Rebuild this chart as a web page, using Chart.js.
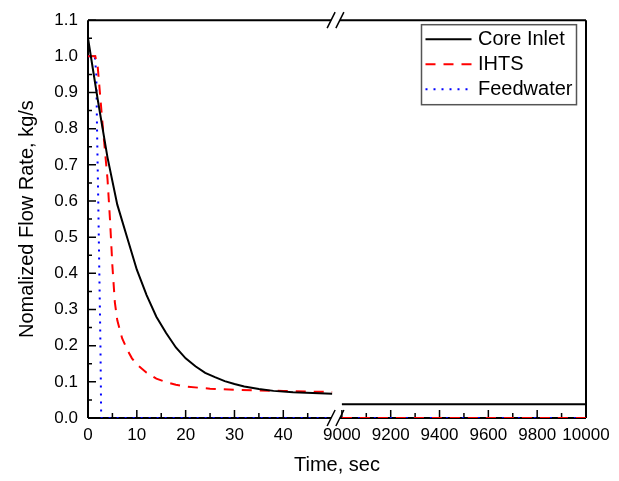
<!DOCTYPE html>
<html>
<head>
<meta charset="utf-8">
<script src="https://cdn.jsdelivr.net/npm/chart.js"></script>
<style>
  body { margin: 0; background: #fff; }
  canvas { display: block; }
</style>
</head>
<body>
<canvas id="flowChart" width="619" height="481"></canvas>
<script>
// early transient, seconds
let coreTime = [0, 2, 4, 6, 8, 10, 12, 14, 16, 18, 20, 22, 24, 26, 28, 30, 32, 35, 38, 42, 46, 50];
let coreFlow = [1.05, 0.88, 0.72, 0.59, 0.50, 0.41, 0.34, 0.28, 0.235, 0.195, 0.165, 0.143, 0.125, 0.113, 0.102, 0.094, 0.087, 0.080, 0.075, 0.071, 0.069, 0.067];

let ihtsTime = [0, 1.5, 2, 3, 4, 4.5, 5, 5.5, 6, 7, 8, 9, 10, 12, 14, 16, 18, 20, 25, 30, 35, 40, 45, 50];
let ihtsFlow = [1.0, 1.0, 0.97, 0.81, 0.66, 0.55, 0.42, 0.32, 0.27, 0.22, 0.19, 0.165, 0.148, 0.125, 0.109, 0.099, 0.092, 0.087, 0.081, 0.078, 0.076, 0.075, 0.073, 0.072];

let feedTime = [0, 1.4, 1.7, 1.85, 2.1, 2.3, 2.55, 2.7, 50];
let feedFlow = [1.0, 1.0, 0.95, 0.8, 0.6, 0.42, 0.2, 0.0, 0.0];

// long term, 9000-10000 sec
let lateTime = [9000, 10000];
let coreLate = [0.038, 0.038];
let ihtsLate = [0, 0];
let feedLate = [0, 0];

let majorTimes = [0, 10, 20, 30, 40, 9000, 9200, 9400, 9600, 9800, 10000];
let minorTimes = [5, 15, 25, 35, 45, 9100, 9300, 9500, 9700, 9900];

// broken axis: 0-50 s on the left, 9000-10000 s squeezed into 52-102
function axisPos(t) {
    return t <= 50 ? t : 52 + (t - 9000) / 20;
}
function axisTime(u) {
    return u <= 50 ? u : 9000 + (u - 52) * 20;
}

function toPoints(times, values, lateValues) {
    let pts = times.map((t, i) => ({ x: axisPos(t), y: values[i] }));
    pts.push({ x: 51, y: null });
    lateTime.forEach((t, i) => pts.push({ x: axisPos(t), y: lateValues[i] }));
    return pts;
}

let fontFamily = "'Liberation Sans', Arial, sans-serif";

let framePlugin = {
    id: 'frame',
    beforeDatasetsDraw(chart) {
        let ctx = chart.ctx;
        let a = chart.chartArea;
        let x = chart.scales.x;
        let y = chart.scales.y;
        let breakA = x.getPixelForValue(50) - 1;
        let breakB = x.getPixelForValue(52) - 2;
        ctx.save();
        ctx.strokeStyle = '#000';
        ctx.lineWidth = 2;
        ctx.beginPath();
        ctx.moveTo(a.left, a.top); ctx.lineTo(a.left, a.bottom);
        ctx.moveTo(a.right, a.top); ctx.lineTo(a.right, a.bottom);
        ctx.moveTo(a.left, a.top); ctx.lineTo(breakA, a.top);
        ctx.moveTo(breakB, a.top); ctx.lineTo(a.right, a.top);
        ctx.moveTo(a.left, a.bottom); ctx.lineTo(breakA, a.bottom);
        ctx.moveTo(breakB, a.bottom); ctx.lineTo(a.right, a.bottom);
        ctx.stroke();

        // inward ticks
        ctx.lineWidth = 1.5;
        ctx.beginPath();
        majorTimes.forEach(t => {
            let px = x.getPixelForValue(axisPos(t));
            ctx.moveTo(px, a.bottom); ctx.lineTo(px, a.bottom - 8);
        });
        minorTimes.forEach(t => {
            let px = x.getPixelForValue(axisPos(t));
            ctx.moveTo(px, a.bottom); ctx.lineTo(px, a.bottom - 5);
        });
        for (let i = 0; i <= 22; i++) {
            let py = y.getPixelForValue(i * 0.05);
            ctx.moveTo(a.left, py); ctx.lineTo(a.left + (i % 2 ? 4 : 8), py);
        }
        ctx.stroke();
        ctx.restore();
    },
    afterDatasetsDraw(chart) {
        let ctx = chart.ctx;
        let a = chart.chartArea;
        let x = chart.scales.x;
        let breakA = x.getPixelForValue(50) - 1;
        let breakB = x.getPixelForValue(52) - 2;
        ctx.save();
        ctx.strokeStyle = '#000';
        ctx.lineWidth = 1.5;
        ctx.beginPath();
        [a.top, a.bottom].forEach(yy => {
            [breakA, breakB].forEach(cx => {
                ctx.moveTo(cx - 4, yy + 8); ctx.lineTo(cx + 4, yy - 8);
            });
        });
        ctx.stroke();

        // legend box
        let bx = a.right - 164.5;
        let by = a.top + 4.5;
        ctx.strokeStyle = '#555';
        ctx.lineWidth = 1.5;
        ctx.strokeRect(bx, by, 155, 80);
        ctx.font = '20px ' + fontFamily;
        ctx.textBaseline = 'middle';
        ctx.fillStyle = '#000';
        chart.data.datasets.forEach((ds, i) => {
            let ly = a.top + 19 + i * 25;
            ctx.strokeStyle = ds.borderColor;
            ctx.lineWidth = ds.borderWidth;
            ctx.setLineDash(ds.borderDash || []);
            ctx.beginPath();
            ctx.moveTo(bx + 4, ly); ctx.lineTo(bx + 50, ly);
            ctx.stroke();
            ctx.setLineDash([]);
            ctx.fillText(ds.label, bx + 56.5, ly);
        });
        ctx.restore();
    }
};

let flowChart = new Chart(document.getElementById('flowChart').getContext('2d'), {
    type: 'line',
    data: {
        datasets: [{
            label: 'Core Inlet',
            data: toPoints(coreTime, coreFlow, coreLate),
            borderColor: '#000000',
            borderWidth: 2,
        }, {
            label: 'IHTS',
            data: toPoints(ihtsTime, ihtsFlow, ihtsLate),
            borderColor: '#ff0000',
            borderWidth: 2,
            borderDash: [10, 8],
        }, {
            label: 'Feedwater',
            data: toPoints(feedTime, feedFlow, feedLate),
            borderColor: '#0000ff',
            borderWidth: 2,
            borderDash: [2, 6],
        }]
    },
    options: {
        responsive: false,
        animation: false,
        spanGaps: false,
        elements: {
            point: { radius: 0 },
            line: { tension: 0 }
        },
        layout: {
            padding: { top: 15, right: 33, left: 0, bottom: 0 }
        },
        plugins: {
            legend: { display: false },
            tooltip: { enabled: false }
        },
        scales: {
            x: {
                type: 'linear',
                min: 0,
                max: 102,
                grid: { display: false, drawTicks: false },
                border: { display: false },
                afterBuildTicks: scale => {
                    scale.ticks = majorTimes.map(t => ({ value: axisPos(t) }));
                },
                afterFit: scale => { scale.height = 63; },
                ticks: {
                    autoSkip: false,
                    maxRotation: 0,
                    padding: 7,
                    color: '#000',
                    font: { family: fontFamily, size: 17 },
                    callback: v => String(Math.round(axisTime(v)))
                },
                title: {
                    display: true,
                    text: 'Time, sec',
                    color: '#000',
                    font: { family: fontFamily, size: 20 },
                    padding: { top: 4, bottom: 4 }
                }
            },
            y: {
                min: 0,
                max: 1.1,
                grid: { display: false, drawTicks: false },
                border: { display: false },
                afterFit: scale => { scale.width = 88; },
                ticks: {
                    stepSize: 0.1,
                    padding: 10,
                    color: '#000',
                    font: { family: fontFamily, size: 17 },
                    callback: v => v.toFixed(1)
                },
                title: {
                    display: true,
                    text: 'Nomalized Flow Rate, kg/s',
                    color: '#000',
                    font: { family: fontFamily, size: 20 },
                    padding: { top: 15, bottom: 4 }
                }
            }
        }
    },
    plugins: [framePlugin]
});
</script>
</body>
</html>
